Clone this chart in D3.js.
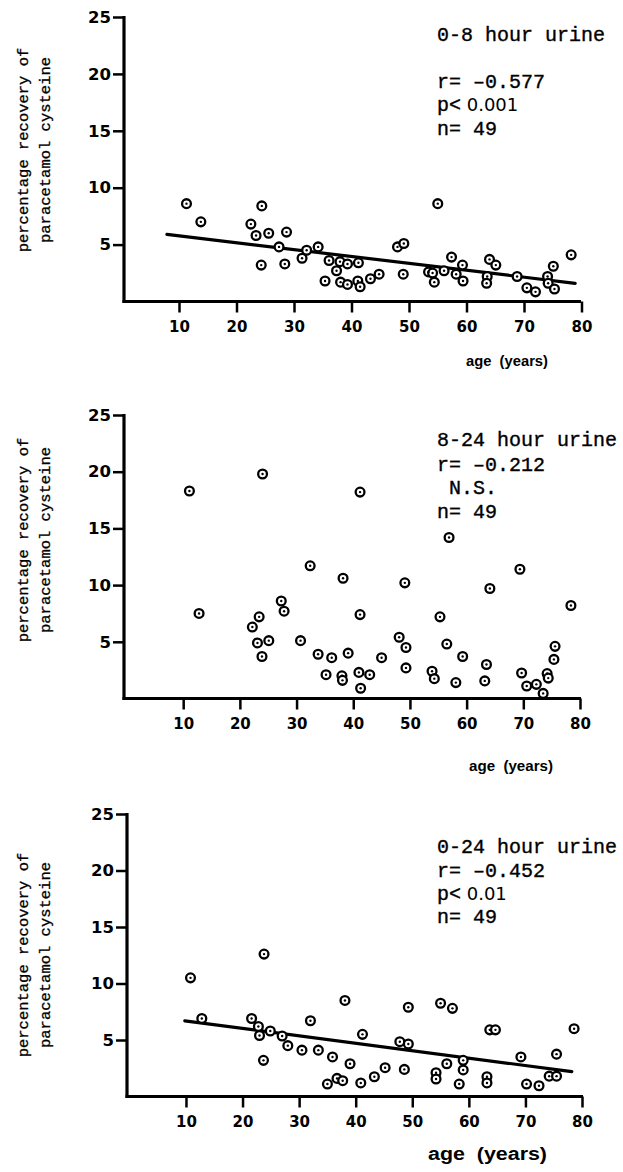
<!DOCTYPE html>
<html><head><meta charset="utf-8">
<script src="https://cdn.jsdelivr.net/npm/d3@7/dist/d3.min.js"></script>
<style>
html,body{margin:0;padding:0;background:#fff;}
svg{display:block;}
</style></head>
<body>
<svg id="chart" width="623" height="1172"></svg>
<script>
// ---------- data ----------
const ageTicks = [10, 20, 30, 40, 50, 60, 70, 80];
const valueTicks = [5, 10, 15, 20, 25];

const panelTitles = ["0-8 hour urine", "8-24 hour urine", "0-24 hour urine"];
const rLabels = ["r= \u20130.577", "r= \u20130.212", "r= \u20130.452"];
const pLabels = ["p<", " N.S.", "p<"];
const pValues = [" 0.001", "", " 0.01"];
const nLabels = ["n= 49", "n= 49", "n= 49"];
const yLabelLines = ["percentage recovery of", "paracetamol cysteine"];
const xLabel = "age  (years)";

// 0-8 hour urine
const ages1 = [11.3, 13.8, 24.4, 22.5, 23.4, 25.6, 28.7, 27.4, 24.3, 28.4, 31.4, 32.2, 34.2, 36.1, 37.4, 38.0, 39.3, 41.2, 35.4, 38.1, 39.3, 41.1, 41.5, 43.3, 44.8, 48.0, 49.1, 49.0, 55.0, 53.4, 54.1, 54.4, 56.1, 57.4, 59.3, 58.2, 59.4, 63.6, 63.5, 64.0, 65.1, 68.8, 70.5, 72.0, 74.1, 75.1, 74.2, 75.3, 78.2];
const vals1 = [8.6, 7.0, 8.4, 6.8, 5.8, 6.0, 6.1, 4.8, 3.2, 3.3, 3.8, 4.5, 4.8, 3.6, 2.7, 3.5, 3.3, 3.4, 1.8, 1.7, 1.5, 1.8, 1.3, 2.0, 2.4, 4.8, 5.1, 2.4, 8.6, 2.6, 2.5, 1.7, 2.7, 3.9, 3.2, 2.4, 1.8, 2.2, 1.6, 3.7, 3.2, 2.2, 1.2, 0.85, 2.2, 3.1, 1.6, 1.1, 4.1];
const fit1 = [[7.9, 5.9], [78.9, 1.6]];

// 8-24 hour urine
const ages2 = [11.1, 24.0, 41.2, 32.4, 38.2, 49.1, 12.8, 41.2, 56.9, 69.4, 64.1, 78.4, 55.3, 27.3, 27.8, 23.4, 22.2, 23.1, 25.1, 23.9, 30.7, 33.8, 36.2, 39.1, 35.2, 38.0, 38.1, 41.0, 42.9, 41.3, 45.0, 48.1, 49.3, 49.3, 56.5, 59.3, 53.9, 54.3, 58.1, 63.5, 63.2, 69.7, 70.6, 72.3, 73.5, 74.2, 74.4, 75.4, 75.6];
const vals2 = [18.3, 19.8, 18.2, 11.7, 10.6, 10.2, 7.5, 7.4, 14.2, 11.4, 9.7, 8.2, 7.2, 8.6, 7.7, 7.2, 6.3, 4.9, 5.1, 3.7, 5.1, 3.9, 3.6, 4.0, 2.1, 2.0, 1.6, 2.3, 2.1, 0.9, 3.6, 5.4, 4.5, 2.7, 4.8, 3.7, 2.4, 1.75, 1.4, 3.0, 1.55, 2.25, 1.1, 1.25, 0.45, 2.2, 1.8, 3.45, 4.6];

// 0-24 hour urine
const ages3 = [10.8, 23.8, 38.1, 49.3, 12.8, 21.6, 22.8, 23.0, 24.9, 27.0, 32.0, 23.7, 28.0, 30.5, 33.4, 35.9, 39.0, 41.2, 35.0, 36.7, 37.7, 40.9, 43.3, 45.2, 48.6, 55.0, 57.1, 47.8, 49.3, 54.2, 54.2, 56.1, 59.0, 59.0, 58.3, 63.7, 64.7, 63.2, 63.2, 69.2, 70.2, 72.4, 75.5, 78.6, 74.2, 75.5];
const vals3 = [10.5, 12.6, 8.5, 7.9, 6.9, 6.9, 6.2, 5.4, 5.8, 5.35, 6.7, 3.2, 4.5, 4.1, 4.1, 3.5, 2.9, 5.5, 1.1, 1.6, 1.4, 1.2, 1.75, 2.55, 2.4, 8.25, 7.8, 4.85, 4.65, 2.1, 1.55, 2.9, 3.2, 2.35, 1.1, 5.9, 5.9, 1.75, 1.2, 3.5, 1.1, 0.95, 3.75, 6.0, 1.8, 1.8];
const fit3 = [[9.8, 6.7], [78.2, 2.2]];

// ---------- layout ----------
const panels = [
  {ages: ages1, vals: vals1, fit: fit1, xr: [121.5, 581.5], yr: [301.5, 17], axX: 124, axEnd: 581, txt: [437, 41, 88, 111, 135], xlab: [466, 366, 82, 15.5], ylabC: 150},
  {ages: ages2, vals: vals2, fit: null, xr: [126.5, 580], yr: [698.5, 415], axX: 124, axEnd: 581, txt: [437, 446, 471, 494, 518], xlab: [469, 771, 84, 15.5], ylabC: 540},
  {ages: ages3, vals: vals3, fit: fit3, xr: [129.4, 582], yr: [1096.5, 814], axX: 127, axEnd: 583, txt: [437, 853, 877, 900, 923], xlab: [428, 1160, 119, 18], ylabC: 955}
];

const svg = d3.select("#chart");
const mono = "'Liberation Mono', 'DejaVu Sans Mono', monospace";
const sans = "'DejaVu Sans', 'Noto Sans', sans-serif";
const labelSans = "'Liberation Sans', Arial, sans-serif";

panels.forEach((p, i) => {
  const x = d3.scaleLinear().domain([0, 80]).range(p.xr);
  const y = d3.scaleLinear().domain([0, 25]).range(p.yr);
  const g = svg.append("g");

  // y axis
  const yAxis = d3.axisLeft(y).tickValues(valueTicks).tickSize(11).tickPadding(2);
  const ya = g.append("g").attr("transform", `translate(${p.axX},0)`).call(yAxis);
  ya.select(".domain").remove();
  ya.selectAll(".tick line").attr("stroke", "#000").attr("stroke-width", 2.5);
  ya.selectAll(".tick text").attr("font-family", sans).attr("font-size", 16.5).attr("fill", "#000").attr("font-weight", 600);

  // x axis
  const xAxis = d3.axisBottom(x).tickValues(ageTicks).tickSize(11).tickPadding(9);
  const xa = g.append("g").attr("transform", `translate(0,${y(0)})`).call(xAxis);
  xa.select(".domain").remove();
  xa.selectAll(".tick line").attr("stroke", "#000").attr("stroke-width", 2.5);
  xa.selectAll(".tick text").attr("font-family", sans).attr("font-size", 15).attr("fill", "#000").attr("font-weight", 600);

  // axis lines
  g.append("line").attr("x1", p.axX).attr("x2", p.axX).attr("y1", y(25) - 1).attr("y2", y(0) + 1.5)
    .attr("stroke", "#000").attr("stroke-width", 3.2);
  g.append("line").attr("x1", p.axX - 1.5).attr("x2", p.axEnd).attr("y1", y(0)).attr("y2", y(0))
    .attr("stroke", "#000").attr("stroke-width", 3.2);

  // regression line
  if (p.fit) {
    g.append("line")
      .attr("x1", x(p.fit[0][0])).attr("y1", y(p.fit[0][1]))
      .attr("x2", x(p.fit[1][0])).attr("y2", y(p.fit[1][1]))
      .attr("stroke", "#000").attr("stroke-width", 3.2).attr("stroke-linecap", "round");
  }

  // points
  const pts = p.ages.map((a, k) => [a, p.vals[k]]);
  const pg = g.append("g");
  pg.selectAll("circle.o").data(pts).join("circle").attr("class", "o")
    .attr("cx", d => x(d[0])).attr("cy", d => y(d[1])).attr("r", 4.4)
    .attr("fill", "#fff").attr("stroke", "#000").attr("stroke-width", 2.3);
  pg.selectAll("circle.c").data(pts).join("circle").attr("class", "c")
    .attr("cx", d => x(d[0])).attr("cy", d => y(d[1])).attr("r", 1.2).attr("fill", "#000");

  // annotations
  const t = p.txt;
  const ann = g.append("g").attr("font-family", mono).attr("font-size", 20).attr("fill", "#000")
    .attr("stroke", "#000").attr("stroke-width", 0.35);
  ann.append("text").attr("x", t[0]).attr("y", t[1]).text(panelTitles[i]);
  ann.append("text").attr("x", t[0]).attr("y", t[2]).text(rLabels[i]);
  const pt = ann.append("text").attr("x", t[0]).attr("y", t[3]).attr("xml:space", "preserve");
  pt.append("tspan").text(pLabels[i]);
  if (pValues[i]) pt.append("tspan").attr("font-family", sans).attr("font-size", 18).attr("stroke-width", 0).text(pValues[i]);
  ann.append("text").attr("x", t[0]).attr("y", t[4]).text(nLabels[i]);

  // x label
  g.append("text").attr("x", p.xlab[0]).attr("y", p.xlab[1]).attr("xml:space", "preserve")
    .attr("font-family", labelSans).attr("font-size", p.xlab[3]).attr("font-weight", 700)
    .attr("textLength", p.xlab[2]).attr("lengthAdjust", "spacingAndGlyphs").text(xLabel);

  // y label
  yLabelLines.forEach((line, j) => {
    g.append("text")
      .attr("transform", `translate(${28 + j * 22},${p.ylabC}) rotate(-90)`)
      .attr("text-anchor", "middle")
      .attr("font-family", mono).attr("font-size", 15.5).attr("fill", "#000")
      .attr("stroke", "#000").attr("stroke-width", 0.3)
      .text(line);
  });
});
</script>
</body></html>
